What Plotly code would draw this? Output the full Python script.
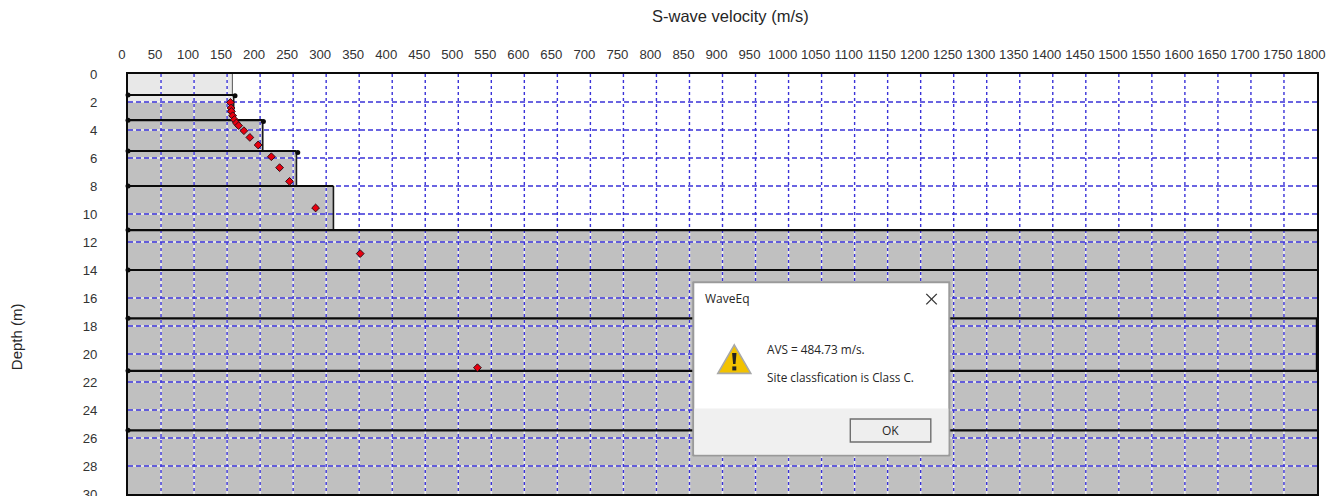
import plotly.graph_objects as go

x_ticks = list(range(0, 1801, 50))
y_ticks = list(range(0, 31, 2))
layer_tops = [0, 1.5, 3.3, 5.5, 8, 11.15, 14, 17.45, 21.2, 25.45]
layer_velocity = [158, 160, 204, 255, 311, 1800, 1800, 1800, 1800, 1800]
max_depth = 30
water_table = 2
point_velocity = [155, 156, 156.5, 158.5, 161, 164, 167.5, 175.5, 184.5, 197, 217, 229.5, 244.5, 284, 351.5, 529]
point_depth = [2.03, 2.43, 2.67, 2.98, 3.26, 3.5, 3.69, 4.05, 4.53, 5.07, 5.91, 6.69, 7.67, 9.57, 12.83, 20.98]
end_dot_velocity = [162, 205, 257, 1803, 1803]
end_dot_depth = [1.55, 3.4, 5.6, 17.5, 21.25]

FONT = "Liberation Sans"
DLG = "Open Sans"
L, R, T, B = 127.7, 1316.7, 74.3, 494
W, H = 1338, 496


def band(d0, d1):
    xs, ys = [0], [d0]
    bottoms = layer_tops[1:] + [max_depth]
    for top, bot, v in zip(layer_tops, bottoms, layer_velocity):
        a, b = max(top, d0), min(bot, d1)
        if a < b:
            xs += [v, v]
            ys += [a, b]
    return xs + [0], ys + [d1]


fig = go.Figure()
for (d0, d1), col in (((0, water_table), "#e8e8e8"), ((water_table, max_depth), "#c0c0c0")):
    bx, by = band(d0, d1)
    fig.add_trace(go.Scatter(x=bx, y=by, mode="lines", fill="toself", fillcolor=col, line=dict(width=0), hoverinfo="skip"))

gx, gy = [], []
for t in x_ticks[1:-1]:
    gx += [t, t, None]
    gy += [0, max_depth, None]
hx, hy = [], []
for t in y_ticks[1:-1]:
    hx += [0, x_ticks[-1], None]
    hy += [t, t, None]
grid_x = gx + hx
grid_y = gy + hy
fig.add_trace(go.Scatter(x=grid_x, y=grid_y, mode="lines", line=dict(color="rgba(255,255,255,0.75)", width=1.6), hoverinfo="skip"))
fig.add_trace(go.Scatter(x=gx, y=gy, mode="lines", line=dict(color="#3a32d8", width=1.4, dash="3px 3px"), hoverinfo="skip"))
fig.add_trace(go.Scatter(x=hx, y=hy, mode="lines", line=dict(color="#3a32d8", width=1.4, dash="5px 3px"), hoverinfo="skip"))

# first-layer edge is thin, horizontal layer boundaries are heavy, vertical steps lighter
fig.add_trace(go.Scatter(x=[layer_velocity[0], layer_velocity[0]], y=[0, layer_tops[1]], mode="lines",
                         line=dict(color="#555555", width=1), hoverinfo="skip"))
hsx, hsy, vsx, vsy = [], [], [], []
bottoms = layer_tops[1:] + [max_depth]
for i, (top, bot, v) in enumerate(zip(layer_tops, bottoms, layer_velocity)):
    if i:
        hsx += [0, v, None]
        hsy += [top, top, None]
    if 0 < i < 5:
        vsx += [v, v, None]
        vsy += [top, bot, None]
fig.add_trace(go.Scatter(x=vsx, y=vsy, mode="lines", line=dict(color="#1a1a1a", width=1.6), hoverinfo="skip"))
fig.add_trace(go.Scatter(x=hsx, y=hsy, mode="lines", line=dict(color="#0a0a0a", width=2.2), hoverinfo="skip"))
fig.add_trace(go.Scatter(x=[layer_velocity[-1]] * 2, y=[layer_tops[7], layer_tops[8]], mode="lines",
                         line=dict(color="#0a0a0a", width=2.4), hoverinfo="skip", cliponaxis=False))
fig.add_trace(go.Scatter(x=end_dot_velocity + [0] * (len(layer_tops) - 1), y=end_dot_depth + layer_tops[1:],
                         mode="markers", marker=dict(color="#0a0a0a", size=5), cliponaxis=False, hoverinfo="skip"))
fig.add_trace(go.Scatter(x=point_velocity, y=point_depth, mode="markers",
                         marker=dict(symbol="diamond", color="#e8000f", size=6, line=dict(color="#301018", width=1)),
                         name="Vs"))


def px(x):
    return (x - L) / (R - L)


def py(y):
    return (B - y) / (B - T)


def rect(x0, y0, x1, y1, fill, line=None, lw=1):
    return dict(type="rect", xref="paper", yref="paper", x0=px(x0), x1=px(x1), y0=py(y0), y1=py(y1),
                fillcolor=fill, line=dict(color=line or fill, width=lw if line else 0), layer="above")


def pp(points):
    return "M" + " L".join(f"{px(a):.5f},{py(b):.5f}" for a, b in points) + " Z"


def poly(points, fill, line=None, lw=1):
    return dict(type="path", xref="paper", yref="paper", path=pp(points), fillcolor=fill,
                line=dict(color=line or fill, width=lw if line else 0), layer="above")


def seg(x0, y0, x1, y1, col, lw):
    return dict(type="line", xref="paper", yref="paper", x0=px(x0), x1=px(x1), y0=py(y0), y1=py(y1),
                line=dict(color=col, width=lw), layer="above")


shapes = [
    rect(692.5, 282, 949.5, 456, "#9a9a9a", "#9a9a9a", 1),
    rect(694, 283.5, 948, 454.5, "#ffffff"),
    rect(694, 408.5, 948, 454.5, "#f0f0f0"),
    rect(850, 419, 930.5, 442, "#eeeeee", "#6f6f6f", 1.4),
    seg(926, 294, 936.5, 304.5, "#333333", 1.3),
    seg(936.5, 294, 926, 304.5, "#333333", 1.3),
    poly([(734, 345), (750.5, 373.5), (717.5, 373.5)], "#f2c200", "#a8a8a8", 1.6),
    poly([(731.8, 353), (736.2, 353), (735.2, 364), (732.8, 364)], "#222222"),
    rect(732, 366.5, 736, 370.5, "#222222"),
]


def note(x, y, text, size=12, anchor="left", font=DLG, **kw):
    return dict(xref="paper", yref="paper", x=px(x), y=py(y), text=text, showarrow=False, xanchor=anchor,
                yanchor="middle", font=dict(family=font, size=size, color="#262626"), **kw)


annotations = [
    note(703, 299, "WaveEq", 12),
    note(765, 349, "AVS = 484.73 m/s.", 11.8),
    note(765, 377, "Site classfication is Class C.", 11.8),
    note(890, 431, "OK", 12, "center"),
    note(17, 337, "Depth (m)", 15, "center", FONT, textangle=-90),
    note(730, 16, "S-wave velocity (m/s)", 16.5, "center", FONT),
]

fig.update_layout(
    width=W, height=H, autosize=False, showlegend=False,
    margin=dict(l=L, r=W - R, t=T, b=H - B, pad=0),
    paper_bgcolor="white", plot_bgcolor="white",
    font=dict(family=FONT, color="#333333", size=13),
    shapes=shapes, annotations=annotations,
    xaxis=dict(side="top", range=[0, 1800], tickvals=x_ticks, ticktext=[str(t) for t in x_ticks],
               tickangle=0, showgrid=False, zeroline=False, ticks="outside", ticklen=8, tickcolor="rgba(0,0,0,0)",
               ticklabelshift=-6, ticklabeloverflow="allow",
               showline=True, mirror=True, linecolor="#0a0a0a", linewidth=2,
               tickfont=dict(size=13.2), automargin=False),
    yaxis=dict(range=[max_depth, 0], tickvals=y_ticks, ticktext=[str(t) for t in y_ticks],
               showgrid=False, zeroline=False, ticks="outside", ticklen=26, tickcolor="rgba(0,0,0,0)",
               ticklabeloverflow="allow",
               showline=True, mirror=True, linecolor="#0a0a0a", linewidth=2,
               tickfont=dict(size=13.2), automargin=False),
)
fig.write_html("out.html", config=dict(displayModeBar=False), post_script="document.body.style.margin='0';")
